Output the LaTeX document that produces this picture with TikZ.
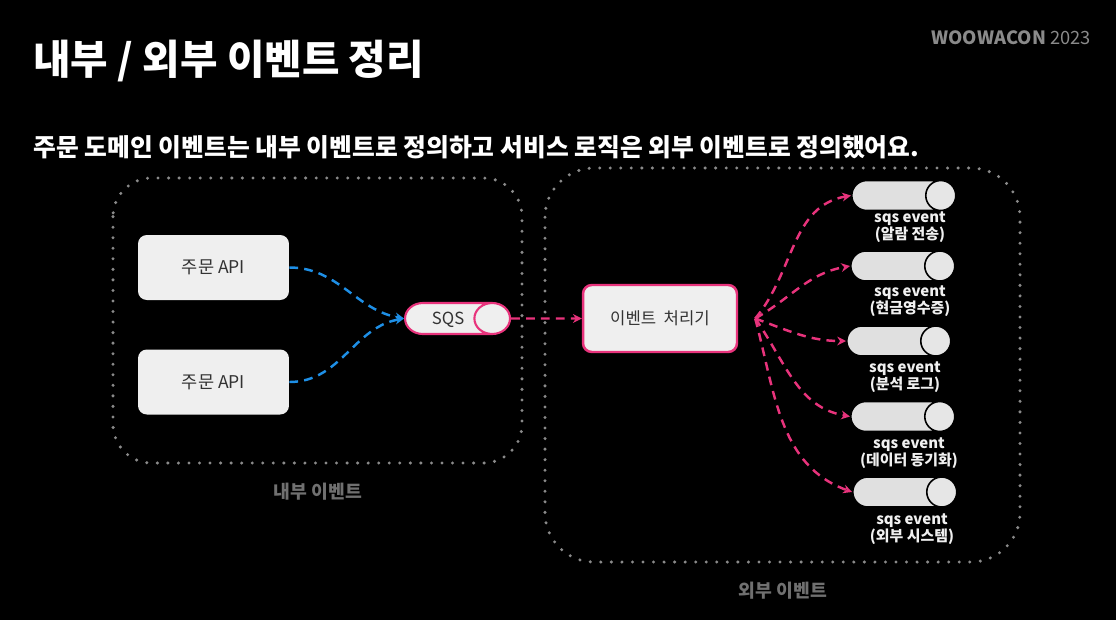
\documentclass[tikz,border=0pt]{standalone}
\usepackage{fontspec}
\setmainfont{Noto Sans CJK KR}
\usetikzlibrary{positioning,shapes.geometric,arrows.meta}
\definecolor{eventpink}{HTML}{E8337C}
\definecolor{apiblue}{HTML}{1E8FE6}
\definecolor{boxgray}{HTML}{EFEFEF}
\definecolor{cylgray}{HTML}{E0E0E0}
\definecolor{dotgray}{HTML}{8A8A8A}
\definecolor{zonetext}{HTML}{707070}
\tikzset{
	apibox/.style={fill=boxgray, rounded corners=5pt, minimum width=3.02cm, minimum height=1.3cm, text=black!80, font=\fontsize{10}{12}\selectfont},
	procbox/.style={draw=eventpink, line width=1.4pt, fill=boxgray, rounded corners=5pt, minimum width=3.08cm, minimum height=1.34cm, text=black!80, font=\fontsize{9.5}{12}\selectfont},
	sqsqueue/.style={cylinder, anchor=west, draw=eventpink, line width=1.2pt, aspect=1.15, cylinder uses custom fill, cylinder body fill=boxgray, cylinder end fill=boxgray, text height=0.43cm, text depth=0.19cm, inner sep=0pt, minimum height=2.1cm, text=black!80, font=\fontsize{9.5}{12}\selectfont},
	evqueue/.style={cylinder, anchor=west, draw=black, line width=0.9pt, aspect=1.0, cylinder uses custom fill, cylinder body fill=cylgray, cylinder end fill=cylgray!80!white, inner xsep=0pt, inner ysep=0.3cm, minimum height=2.08cm},
	evlabel/.style={anchor=north, align=center, text=white!94!black, inner sep=0pt, font=\fontsize{8.5}{9.8}\selectfont\bfseries},
	dotzone/.style={draw=dotgray, line width=1.9pt, line cap=round, dash pattern=on 0pt off 6pt},
	zonename/.style={text=zonetext, font=\fontsize{10.4}{12}\selectfont\bfseries},
	eventflow/.style={draw=eventpink, line width=1.4pt, dash pattern=on 5pt off 3.5pt, -{Stealth[length=5pt,width=5pt]}},
	apiflow/.style={draw=apiblue, line width=1.4pt, dash pattern=on 5pt off 3.5pt, -{Stealth[length=5pt,width=5pt]}},
}
\begin{document}
\begin{tikzpicture}[x=0.02cm, y=-0.02cm]
	\fill[black] (0,0) rectangle (1116,620);

	\node[anchor=west, inner sep=0pt, text=white, font=\fontsize{23.2}{26}\selectfont\bfseries] (title) at (33,61) {내부 / 외부 이벤트 정리};
	\node[anchor=east, inner sep=0pt, text=dotgray, font=\fontsize{10.4}{12}\selectfont] (brand) at (1091,38) {\textbf{WOOWACON} 2023};
	\node[anchor=west, inner sep=0pt, text=white, font=\fontsize{14.1}{16}\selectfont\bfseries] (subtitle) at (33,147) {주문 도메인 이벤트는 내부 이벤트로 정의하고 서비스 로직은 외부 이벤트로 정의했어요.};

	\draw[dotzone, rounded corners=22pt] (113,178) rectangle (522,463);
	\draw[dotzone, rounded corners=28pt] (545,168) rectangle (1020,562);
	\node[zonename] (inner) at (318,492) {내부 이벤트};
	\node[zonename] (outer) at (783,591) {외부 이벤트};

	\node[apibox] (api1) at (213.5,267.5) {주문 API};
	\node[apibox] (api2) at (213.5,382) {주문 API};
	\node[sqsqueue] (sqs) at (404,318.5) {SQS};
	\node[procbox] (proc) at (660,318.5) {이벤트\ \ 처리기};

	\node[evqueue] (ev1) at (851,195.5) {};
	\node[evqueue] (ev2) at (850,266) {};
	\node[evqueue] (ev3) at (846,341) {};
	\node[evqueue] (ev4) at (850,416.5) {};
	\node[evqueue] (ev5) at (852,492) {};

	\node[evlabel] (lb1) at (910,211.5) {sqs event\\(알람 전송)};
	\node[evlabel] (lb2) at (910,285.5) {sqs event\\(현금영수증)};
	\node[evlabel] (lb3) at (905,361.5) {sqs event\\(분석 로그)};
	\node[evlabel] (lb4) at (909,437.5) {sqs event\\(데이터 동기화)};
	\node[evlabel] (lb5) at (912,513.5) {sqs event\\(외부 시스템)};

	\draw[apiflow] (api1.east) to[out=0, in=170] (sqs.west);
	\draw[apiflow] (api2.east) to[out=0, in=190] (sqs.west);
	\draw[eventflow] (sqs.east) -- (proc.west);

	\coordinate (fan) at ([xshift=0.34cm]proc.east);
	\draw[eventflow] (fan) to[out=50, in=190] (ev1.west);
	\draw[eventflow] (fan) to[out=30, in=190] (ev2.west);
	\draw[eventflow] (fan) to[out=-20, in=180] (ev3.west);
	\draw[eventflow] (fan) to[out=-55, in=170] (ev4.west);
	\draw[eventflow] (fan) to[out=-75, in=160] (ev5.west);
\end{tikzpicture}
\end{document}
